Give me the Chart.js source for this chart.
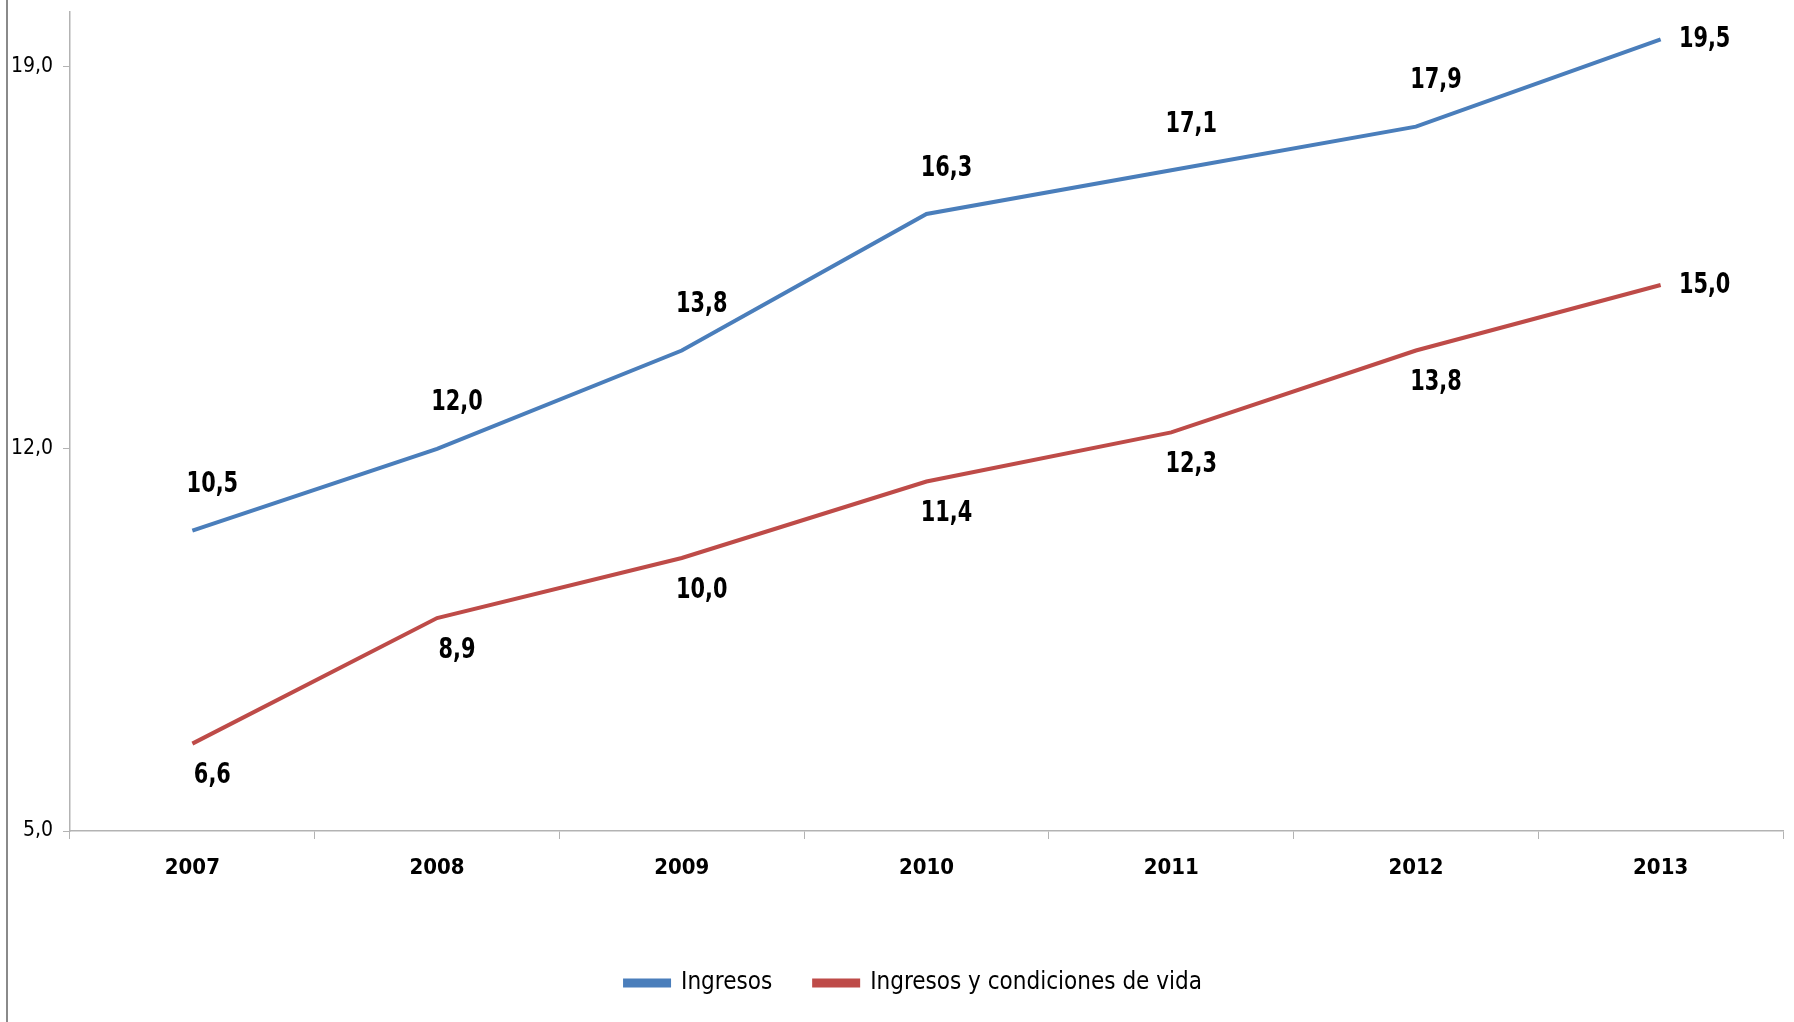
<!DOCTYPE html>
<html lang="es">
<head>
    <meta charset="UTF-8">
    <title>Ingresos</title>
    <script src="https://cdn.jsdelivr.net/npm/chart.js"></script>
    <style>
        body { margin: 0; background: #fff; }
        .wrap { position: relative; width: 1794px; height: 1022px; }
        .frame-line {
            position: absolute;
            left: 6px; top: 0;
            width: 2px; height: 1022px;
            background: #8a8a8a;
        }
    </style>
</head>
<body>
    <div class="wrap">
        <canvas id="chart" width="1794" height="1022"></canvas>
        <div class="frame-line"></div>
    </div>

    <script>
        const years = ['2007', '2008', '2009', '2010', '2011', '2012', '2013'];
        const ingresos = [10.5, 12.0, 13.8, 16.3, 17.1, 17.9, 19.5];
        const ingresosCondiciones = [6.6, 8.9, 10.0, 11.4, 12.3, 13.8, 15.0];
        const yTicks = [5, 12, 19];

        const FONT = '"Liberation Sans Narrow", "DejaVu Sans Condensed", "Open Sans", sans-serif';
        const fmt = v => v.toFixed(1).replace('.', ',');

        // draws the value next to every point (squeezed a little, the original font is narrow)
        const valueLabels = {
            id: 'valueLabels',
            afterDatasetsDraw(chart, args, opts) {
                const ctx = chart.ctx;
                chart.data.datasets.forEach((ds, i) => {
                    const meta = chart.getDatasetMeta(i);
                    const off = opts.offsets[i];
                    meta.data.forEach((pt, j) => {
                        const last = j === meta.data.length - 1;
                        const x = pt.x + (last ? opts.lastDx : off.dx);
                        const y = pt.y + (last ? 0 : off.dy);
                        ctx.save();
                        ctx.translate(x, y);
                        ctx.scale(opts.squeeze, 1);
                        ctx.font = 'bold 29px ' + FONT;
                        ctx.fillStyle = '#000';
                        ctx.textAlign = 'center';
                        ctx.textBaseline = 'middle';
                        ctx.fillText(fmt(ds.data[j]), 0, 0);
                        ctx.restore();
                    });
                });
            }
        };

        // move the legend sideways a bit, as in the original
        const legendShift = {
            id: 'legendShift',
            afterLayout(chart, args, opts) {
                if (chart.legend) {
                    chart.legend.left += opts.dx;
                    chart.legend.right += opts.dx;
                }
            }
        };

        new Chart(document.getElementById('chart'), {
            type: 'line',
            data: {
                labels: years,
                datasets: [{
                    label: 'Ingresos',
                    data: ingresos,
                    borderColor: '#4A7EBB',
                    backgroundColor: '#4A7EBB',
                    borderWidth: 4,
                    pointRadius: 0,
                    tension: 0
                }, {
                    label: 'Ingresos y condiciones de vida',
                    data: ingresosCondiciones,
                    borderColor: '#BE4B48',
                    backgroundColor: '#BE4B48',
                    borderWidth: 4,
                    pointRadius: 0,
                    tension: 0
                }]
            },
            options: {
                responsive: false,
                animation: false,
                layout: { padding: { top: 12, right: 11, left: 0, bottom: 17 } },
                scales: {
                    x: {
                        offset: true,
                        grid: { offset: true, drawOnChartArea: false, tickLength: 8, color: '#b3b3b3' },
                        border: { color: '#b3b3b3', width: 1.5 },
                        ticks: { color: '#000', padding: 16, font: { family: FONT, size: 22, weight: 'bold' } },
                        afterFit: s => { s.height = 98; }
                    },
                    y: {
                        min: 5,
                        max: 20,
                        afterBuildTicks: s => { s.ticks = yTicks.map(v => ({ value: v })); },
                        grid: { drawOnChartArea: false, tickLength: 7, color: '#b3b3b3' },
                        border: { color: '#b3b3b3', width: 1.5 },
                        ticks: {
                            color: '#000',
                            padding: 10,
                            font: { family: FONT, size: 21 },
                            callback: v => fmt(v)
                        },
                        afterFit: s => {
                            s.width = 70;
                            s.paddingTop = 0;
                            s.paddingBottom = 0;
                        }
                    }
                },
                plugins: {
                    legend: {
                        position: 'bottom',
                        labels: {
                            color: '#000',
                            boxWidth: 44,
                            boxHeight: 5,
                            padding: 42,
                            font: { family: FONT, size: 24 }
                        }
                    },
                    tooltip: { enabled: false },
                    valueLabels: {
                        offsets: [{ dx: 20, dy: -46 }, { dx: 20, dy: 32 }],
                        lastDx: 44,
                        squeeze: 0.8
                    },
                    legendShift: { dx: 22 }
                }
            },
            plugins: [valueLabels, legendShift]
        });
    </script>
</body>
</html>
